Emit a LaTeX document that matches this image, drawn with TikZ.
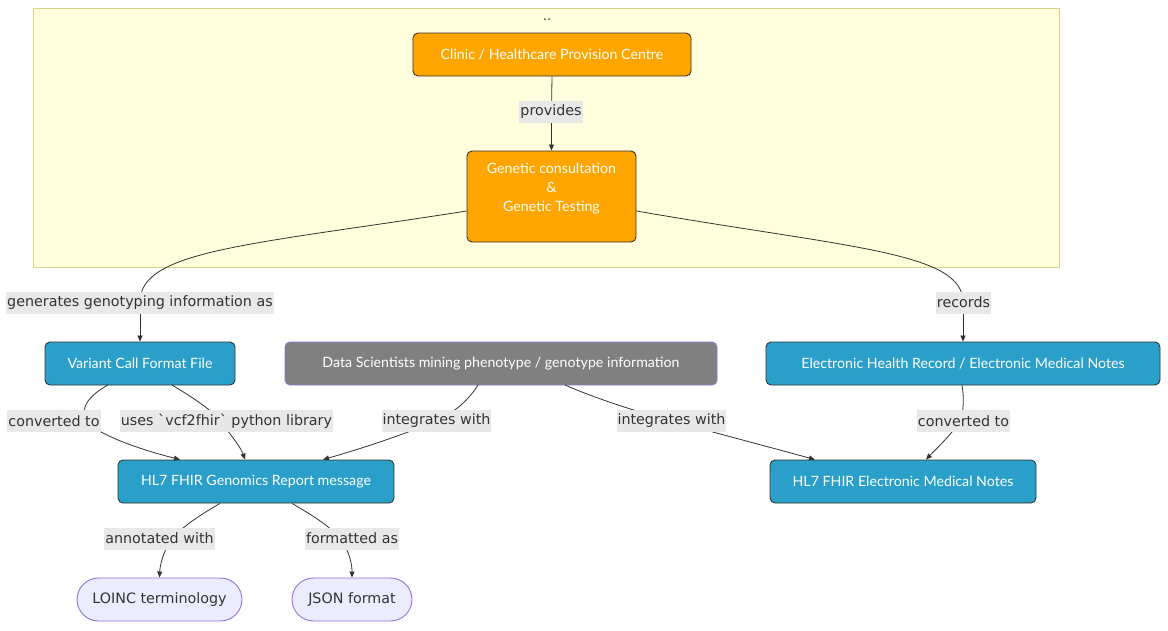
\documentclass[tikz,border=0pt]{standalone}
\usepackage{fontspec}
\setmainfont{Lato}
\newfontfamily\lblfont{DejaVu Sans}
\usetikzlibrary{arrows.meta}
\definecolor{orng}{HTML}{FFA500}
\definecolor{blu}{HTML}{2A9FCA}
\definecolor{gry}{HTML}{808080}
\definecolor{purp}{HTML}{9370DB}
\definecolor{lav}{HTML}{ECECFF}
\definecolor{clfill}{HTML}{FFFFDE}
\definecolor{clline}{HTML}{D6D68A}
\definecolor{lblbg}{HTML}{E8E8E8}
\definecolor{ink}{HTML}{333333}
\tikzset{
  box/.style={draw=ink, line width=0.9pt, rounded corners=5pt, text=white,
    font=\fontsize{14.2}{19}\selectfont, minimum height=43pt, inner sep=0pt, align=center},
  orangebox/.style={box, fill=orng},
  bluebox/.style={box, fill=blu},
  greybox/.style={box, fill=gry, draw=purp},
  pill/.style={draw=purp, line width=0.9pt, fill=lav, rounded corners=21.5pt,
    minimum height=43pt, inner sep=0pt, text=ink, font=\lblfont\fontsize{14.3}{16}\selectfont},
  lbl/.style={fill=lblbg, text=ink, inner xsep=1pt, inner ysep=0pt, minimum height=22pt,
    font=\lblfont\fontsize{14.3}{16}\selectfont},
  conn/.style={draw=ink, line width=0.8pt},
  arr/.style={conn, -{Triangle[length=6pt,width=5pt]}},
}
\begin{document}
\begin{tikzpicture}[x=1pt,y=-1pt]
\useasboundingbox (0,0) rectangle (1168,630);
% cluster
\draw[fill=clfill, draw=clline, line width=1pt] (33,8) rectangle (1059,267);
\node[text=ink, font=\lblfont\fontsize{13}{14}\selectfont] (ctitle) at (547,20) {..};
% nodes
\node[orangebox, minimum width=278pt] (clinic) at (552,54.5) {Clinic / Healthcare Provision Centre};
\node[orangebox, minimum width=169pt, minimum height=91pt] (gen) at (551.5,196.5) {};
\node[text=white, font=\fontsize{14.2}{19}\selectfont, align=center] (gentext) at (551.5,189) {Genetic consultation\\\&\\Genetic Testing};
\node[bluebox, minimum width=190pt] (vcf) at (140,363.5) {Variant Call Format File};
\node[greybox, minimum width=432pt] (ds) at (501,363.5) {Data Scientists mining phenotype / genotype information};
\node[bluebox, minimum width=394pt] (ehr) at (963,363.5) {Electronic Health Record / Electronic Medical Notes};
\node[bluebox, minimum width=276pt] (hg) at (256,481.5) {HL7 FHIR Genomics Report message};
\node[bluebox, minimum width=266pt] (emn) at (903,481.5) {HL7 FHIR Electronic Medical Notes};
\node[pill, minimum width=165pt] (loinc) at (159.5,599.5) {LOINC terminology};
\node[pill, minimum width=120pt] (json) at (352,599.5) {JSON format};
% pass-through coordinates under labels
\coordinate (cp) at (551.5,111);
\coordinate (cg) at (140,302);
\coordinate (cr) at (963,302);
\coordinate (c1) at (86,421);
\coordinate (c2) at (220,421);
\coordinate (c3) at (436,421);
\coordinate (c4) at (672,421);
\coordinate (c5) at (960,421);
\coordinate (c6) at (172,538);
\coordinate (c7) at (340,538);
% connectors
\draw[conn] (clinic.south) -- (cp);
\draw[arr] (cp) -- (gen.north);
\draw[conn] (gen.west |- 0,211) .. controls (250,245) and (140,250) .. (cg);
\draw[arr] (cg) -- (vcf.north);
\draw[conn] (gen.east |- 0,211) .. controls (850,248) and (963,252) .. (cr);
\draw[arr] (cr) -- (ehr.north);
\draw[conn] (108,385) .. controls (88,396) and (80,408) .. (c1);
\draw[arr] (c1) .. controls (95,432) and (130,447) .. (hg.north west -| 180,0);
\draw[conn] (172,385) .. controls (192,397) and (212,410) .. (c2);
\draw[arr] (c2) .. controls (232,436) and (241,448) .. (hg.north west -| 245,0);
\draw[conn] (478,385) .. controls (470,398) and (456,412) .. (c3);
\draw[arr] (c3) .. controls (400,436) and (360,449) .. (hg.north east -| 323,0);
\draw[conn] (565,385) .. controls (590,396) and (630,410) .. (c4);
\draw[arr] (c4) .. controls (720,434) and (780,450) .. (emn.north west -| 815,0);
\draw[conn] (ehr.south -| 962,0) .. controls (964,398) and (964,410) .. (c5);
\draw[arr] (c5) .. controls (952,434) and (937,448) .. (emn.north west -| 926,0);
\draw[conn] (hg.south -| 220,0) .. controls (200,515) and (185,525) .. (c6);
\draw[arr] (c6) .. controls (163,552) and (160,565) .. (loinc.north -| 159.5,0);
\draw[conn] (hg.south -| 292,0) .. controls (312,515) and (328,525) .. (c7);
\draw[arr] (c7) .. controls (350,552) and (352,565) .. (json.north);
% labels
\node[lbl] (lp) at (551,111.5) {provides};
\node[lbl] (lg) at (140,302.5) {generates genotyping information as};
\node[lbl] (lr) at (963.5,302.5) {records};
\node[lbl] (l1) at (54,421) {converted to};
\node[lbl] (l2) at (226.5,421) {uses `vcf2fhir` python library};
\node[lbl] (l3) at (436.5,421) {integrates with};
\node[lbl] (l4) at (671.5,421) {integrates with};
\node[lbl] (l5) at (963.5,421) {converted to};
\node[lbl] (l6) at (159.5,538.5) {annotated with};
\node[lbl] (l7) at (352,538.5) {formatted as};
\end{tikzpicture}
\end{document}
